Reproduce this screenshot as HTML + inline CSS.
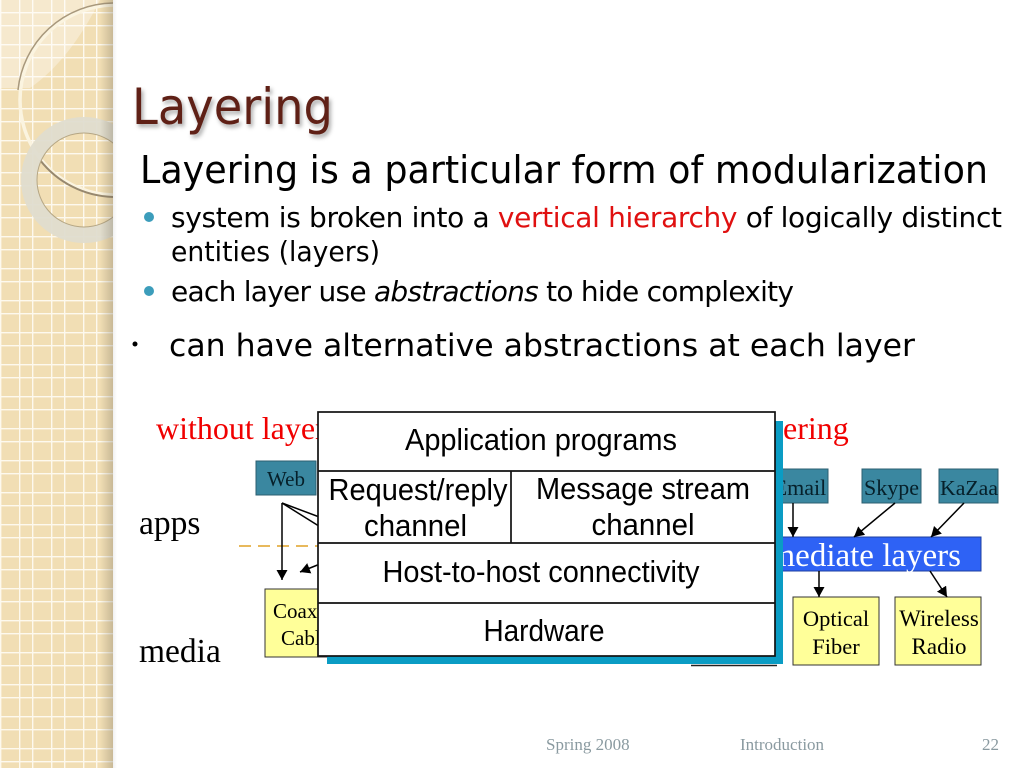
<!DOCTYPE html>
<html><head><meta charset="utf-8"><style>
html,body{margin:0;padding:0;background:#fff}
svg{display:block}
.s{font-family:"Liberation Serif",serif}
.a{font-family:"Liberation Sans",sans-serif}
.d{font-family:"DejaVu Sans",sans-serif}
</style></head><body>
<svg xmlns="http://www.w3.org/2000/svg" width="1024" height="768" viewBox="0 0 1024 768">
<defs>
<pattern id="g" width="32" height="32" patternUnits="userSpaceOnUse" y="12">
<rect width="32" height="32" fill="#f1deb4"/>
<rect x="19" width="1.4" height="32" fill="#fdf9ee"/><rect width="1.4" height="32" fill="#fdf9ee"/>
<rect y="0" width="32" height="1.4" fill="#fdf9ee"/><rect y="13" width="32" height="1.4" fill="#fdf9ee"/>
</pattern>
<linearGradient id="sh" x1="0" x2="1" y1="0" y2="0"><stop offset="0" stop-color="#6a6250" stop-opacity="0"/><stop offset="1" stop-color="#6a6250" stop-opacity=".3"/></linearGradient>
<linearGradient id="sh2" x1="0" x2="1" y1="0" y2="0"><stop offset="0" stop-color="#000" stop-opacity=".06"/><stop offset="1" stop-color="#000" stop-opacity="0"/></linearGradient>
<clipPath id="p"><rect width="113" height="768"/></clipPath>
<marker id="m" markerWidth="12" markerHeight="12" refX="10" refY="5.500" orient="auto" markerUnits="userSpaceOnUse"><path d="M0 0L10 5.500L0 11Z" fill="#000"/></marker>
</defs>
<g clip-path="url(#p)">
<rect width="113" height="768" fill="url(#g)"/>
<path d="M0 88L30 88Q70 60 100 0L0 0Z" fill="#fff" opacity=".35"/>
<circle cx="115" cy="100" r="95" fill="none" stroke="#fbf4e0" stroke-width="3.500"/>
<path d="M113 3A97 97 0 0 0 18 90" fill="none" stroke="#a8987c" stroke-width="1.500"/>
<path d="M40 160A96 96 0 0 0 113 197" fill="none" stroke="#97886e" stroke-width="2"/>
<circle cx="84" cy="180" r="55" fill="none" stroke="#dfdccf" stroke-width="16" opacity=".95"/>
<circle cx="84" cy="180" r="47" fill="none" stroke="#b5a684" stroke-width="1"/>
<rect x="100" width="13" height="768" fill="url(#sh)"/>
</g>
<rect x="113" width="4" height="768" fill="url(#sh2)"/>

<text x="132" y="124" class="d" font-size="50" fill="#5f2016" textLength="201" lengthAdjust="spacingAndGlyphs" style="filter:drop-shadow(2px 3px 2px rgba(0,0,0,.35))">Layering</text>
<text x="140" y="183" class="d" font-size="38" fill="#000" textLength="848" lengthAdjust="spacingAndGlyphs">Layering is a particular form of modularization</text>
<circle cx="149" cy="217" r="5" fill="#3c9dbb"/>
<text x="171" y="227" class="d" font-size="28" fill="#000" textLength="831" lengthAdjust="spacing">system is broken into a <tspan fill="#e01010">vertical hierarchy</tspan> of logically distinct</text>
<text x="171" y="261" class="d" font-size="28" fill="#000" textLength="209" lengthAdjust="spacingAndGlyphs">entities (layers)</text>
<circle cx="149" cy="291" r="5" fill="#3c9dbb"/>
<text x="171" y="301" class="d" font-size="28" fill="#000" textLength="623" lengthAdjust="spacing">each layer use <tspan font-style="italic">abstractions</tspan> to hide complexity</text>
<circle cx="135" cy="344" r="2.500" fill="#000"/>
<text x="169" y="356" class="d" font-size="31" fill="#000" textLength="746" lengthAdjust="spacingAndGlyphs">can have alternative abstractions at each layer</text>

<text x="156" y="439" class="s" font-size="32" fill="#f00000">without layering</text>
<text x="679" y="439" class="s" font-size="32" fill="#f00000">with layering</text>
<text x="139" y="534" class="s" font-size="33.500" fill="#000">apps</text>
<text x="139" y="662" class="s" font-size="33.500" fill="#000">media</text>
<line x1="239" y1="546" x2="320" y2="546" stroke="#e8b95c" stroke-width="2" stroke-dasharray="12 7"/>

<rect x="256" y="461" width="60" height="34" fill="#3a87a0" stroke="#2c5f70"/>
<text x="286" y="486" class="s" font-size="21" text-anchor="middle" fill="#06202a">Web</text>
<rect x="770" y="469" width="58" height="34" fill="#3a87a0" stroke="#2c5f70"/>
<text x="800" y="495" class="s" font-size="22" text-anchor="middle" fill="#06202a">Email</text>
<rect x="862" y="469" width="59" height="34" fill="#3a87a0" stroke="#2c5f70"/>
<text x="891.500" y="495" class="s" font-size="22" text-anchor="middle" fill="#06202a">Skype</text>
<rect x="939" y="469" width="59" height="34" fill="#3a87a0" stroke="#2c5f70"/>
<text x="940" y="495" class="s" font-size="21" fill="#06202a" textLength="58" lengthAdjust="spacingAndGlyphs">KaZaa</text>

<rect x="700" y="537" width="281" height="34" fill="#2e62f5" stroke="#1d3fa0"/>
<text x="961" y="566" class="s" font-size="33" text-anchor="end" fill="#fff">intermediate layers</text>

<rect x="265" y="589" width="70" height="68" fill="#ffff99" stroke="#333"/>
<text x="273" y="618" class="s" font-size="21" fill="#000">Coax</text>
<text x="281" y="645" class="s" font-size="21" fill="#000">Cable</text>
<rect x="793" y="597" width="86" height="68" fill="#ffff99" stroke="#333"/>
<text x="836" y="626" class="s" font-size="22.500" text-anchor="middle" fill="#000">Optical</text>
<text x="836" y="654" class="s" font-size="22.500" text-anchor="middle" fill="#000">Fiber</text>
<rect x="895" y="597" width="86" height="68" fill="#ffff99" stroke="#333"/>
<text x="939" y="626" class="s" font-size="23" text-anchor="middle" fill="#000">Wireless</text>
<text x="939" y="654" class="s" font-size="23" text-anchor="middle" fill="#000">Radio</text>
<line x1="691" y1="665.500" x2="777" y2="665.500" stroke="#222" stroke-width="1.500"/>

<g stroke="#000" stroke-width="1.500" fill="none">
<path d="M282 503V580" marker-end="url(#m)"/>
<path d="M282 503L330 521"/>
<path d="M282 503L330 533"/>
<path d="M325 562L300 572" marker-end="url(#m)"/>
<path d="M793 503V537" marker-end="url(#m)"/>
<path d="M895 503L854 537" marker-end="url(#m)"/>
<path d="M964 503L931 537" marker-end="url(#m)"/>
<path d="M819 571V597" marker-end="url(#m)"/>
<path d="M930 571L947 597" marker-end="url(#m)"/>
</g>

<rect x="327" y="421" width="456" height="243" fill="#0a9cc4"/>
<rect x="318" y="412" width="457" height="244" fill="#fff" stroke="#111" stroke-width="1.700"/>
<g stroke="#111" stroke-width="1.700">
<line x1="318" y1="471" x2="775" y2="471"/>
<line x1="318" y1="543" x2="775" y2="543"/>
<line x1="318" y1="603" x2="775" y2="603"/>
<line x1="511" y1="471" x2="511" y2="543"/>
</g>
<g class="a" font-size="31" fill="#000" text-anchor="middle">
<text x="541" y="450" textLength="272" lengthAdjust="spacingAndGlyphs">Application programs</text>
<text x="418" y="500" textLength="179" lengthAdjust="spacingAndGlyphs">Request/reply</text>
<text x="415.500" y="536" textLength="103" lengthAdjust="spacingAndGlyphs">channel</text>
<text x="643" y="499" textLength="214" lengthAdjust="spacingAndGlyphs">Message stream</text>
<text x="643" y="535" textLength="103" lengthAdjust="spacingAndGlyphs">channel</text>
<text x="541" y="582" textLength="317" lengthAdjust="spacingAndGlyphs">Host-to-host connectivity</text>
<text x="544" y="641" textLength="121" lengthAdjust="spacingAndGlyphs">Hardware</text>
</g>
<g class="s" font-size="17" fill="#8a9aa0">
<text x="546" y="750">Spring 2008</text>
<text x="740" y="750">Introduction</text>
<text x="982" y="750">22</text>
</g>
</svg>
</body></html>
